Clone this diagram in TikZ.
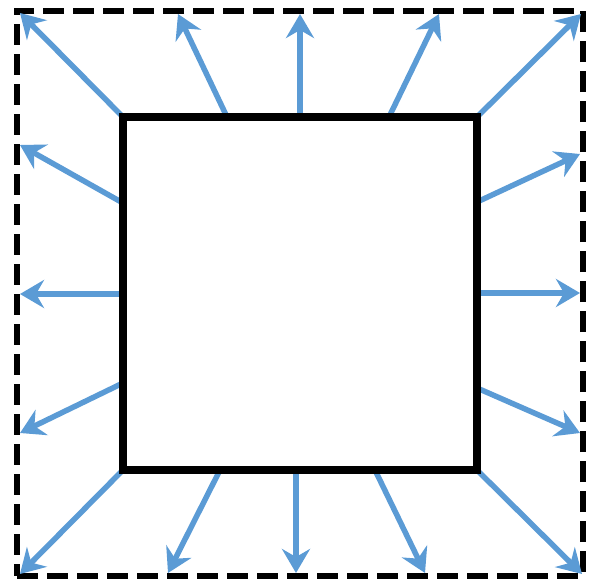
\documentclass[tikz,border=0pt]{standalone}
\usetikzlibrary{arrows.meta}
\definecolor{arrowblue}{HTML}{5B9BD5}
\tikzset{
  framebox/.style={draw=black, line width=6.5pt, dash pattern=on 21pt off 9pt, minimum width=566pt, minimum height=565pt, inner sep=0pt, outer sep=0pt},
  innerbox/.style={draw=black, line width=8pt, minimum width=354pt, minimum height=353pt, inner sep=0pt, outer sep=0pt, fill=white},
  flow/.style={draw=arrowblue, line width=5.5pt, -{Stealth[length=24pt,width=28pt,inset=8pt]}}
}
\begin{document}
\begin{tikzpicture}[x=1pt,y=-1pt]
\useasboundingbox (0,0) rectangle (592,579);
\node[framebox] (frame) at (300,293.5) {};
% start points on the inner square
\coordinate (s1) at (123,117);
\coordinate (s2) at (227,117);
\coordinate (s3) at (300,117);
\coordinate (s4) at (389,117);
\coordinate (s5) at (477,117);
\coordinate (s6) at (123,203);
\coordinate (s7) at (123,294);
\coordinate (s8) at (123,383);
\coordinate (s9) at (477,202);
\coordinate (s10) at (477,293);
\coordinate (s11) at (477,388);
\coordinate (s12) at (123,470);
\coordinate (s13) at (220,470);
\coordinate (s14) at (296,470);
\coordinate (s15) at (375,470);
\coordinate (s16) at (477,470);
% end points on the dashed frame
\coordinate (e1) at (20,13);
\coordinate (e2) at (178,14);
\coordinate (e3) at (300,14);
\coordinate (e4) at (439,14);
\coordinate (e5) at (581,14);
\coordinate (e6) at (20,145);
\coordinate (e7) at (20,294);
\coordinate (e8) at (20,433);
\coordinate (e9) at (580,154);
\coordinate (e10) at (580,293);
\coordinate (e11) at (580,433);
\coordinate (e12) at (20,574);
\coordinate (e13) at (168,573);
\coordinate (e14) at (296,573);
\coordinate (e15) at (425,573);
\coordinate (e16) at (582,574);
\foreach \i in {1,...,16} { \draw[flow] (s\i) -- (e\i); }
\node[innerbox] (box) at (300,293.5) {};
\end{tikzpicture}
\end{document}
